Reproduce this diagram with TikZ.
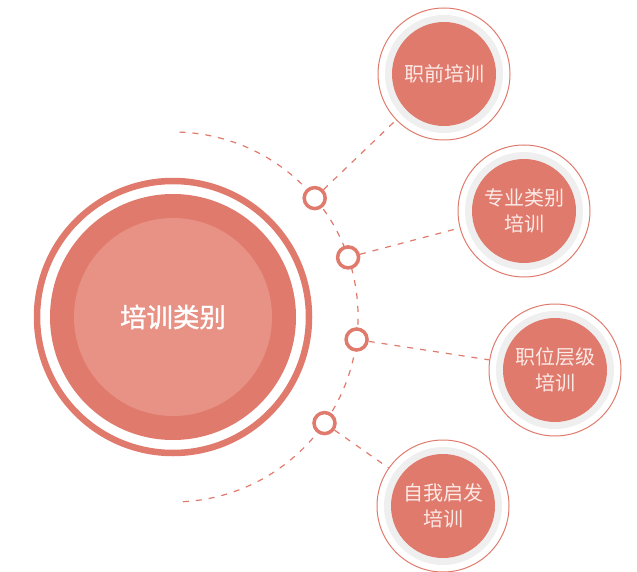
\documentclass[tikz,border=0pt]{standalone}
\usepackage{fontspec}
\newfontfamily\cjk{Noto Sans CJK SC}
\newfontfamily\cjkb[FakeBold=1.2]{Noto Sans CJK SC}
\definecolor{redA}{HTML}{E07A6C}
\definecolor{redB}{HTML}{E89286}
\definecolor{greyR}{HTML}{EFEFEF}
\definecolor{txtL}{HTML}{FCEAE7}
\begin{document}
\begin{tikzpicture}[x=1pt,y=-1pt,
  conn/.style={draw=redA,line width=1.2pt,dash pattern=on 6pt off 7pt},
  knot/.style={circle,draw=redA,fill=white,line width=3.5pt,minimum size=21pt,inner sep=0pt},
  sat/.style={circle,draw=redA,line width=1pt,minimum size=132pt,inner sep=0pt,
    align=center,font=\cjk\fontsize{20}{25.5}\selectfont,text=txtL,
    path picture={
      \fill[greyR] (path picture bounding box.center) circle (59pt);
      \fill[redA] (path picture bounding box.center) circle (52pt);}},
  mainc/.style={circle,draw=redA,line width=6.5pt,minimum size=272pt,inner sep=0pt,
    font=\cjkb\fontsize{26.5}{30}\selectfont,text=white,
    path picture={
      \fill[redA] (path picture bounding box.center) circle (123pt);
      \fill[redB] (path picture bounding box.center) circle (99pt);}}
]
\useasboundingbox (0,0) rectangle (637,572);
% dashed arc
\draw[conn] (179.5,132.1) arc[start angle=88,end angle=-87,radius=185pt];
% main circle
\node[mainc] (m) at (173,317) {培训类别};
% satellites
\node[sat] (s1) at (444,74) {职前培训};
\node[sat] (s2) at (524,211) {专业类别\\培训};
\node[sat] (s3) at (555,370) {职位层级\\培训};
\node[sat] (s4) at (443,506) {自我启发\\培训};
% knots
\node[knot] (k1) at (314.7,198.1) {};
\node[knot] (k2) at (348.1,257.4) {};
\node[knot] (k3) at (356.6,339.5) {};
\node[knot] (k4) at (324.5,423.1) {};
% connectors
\draw[conn] (k1) -- (s1);
\draw[conn] (k2) -- (s2);
\draw[conn] (k3) -- (s3);
\draw[conn] (k4) -- (s4);
\end{tikzpicture}
\end{document}
